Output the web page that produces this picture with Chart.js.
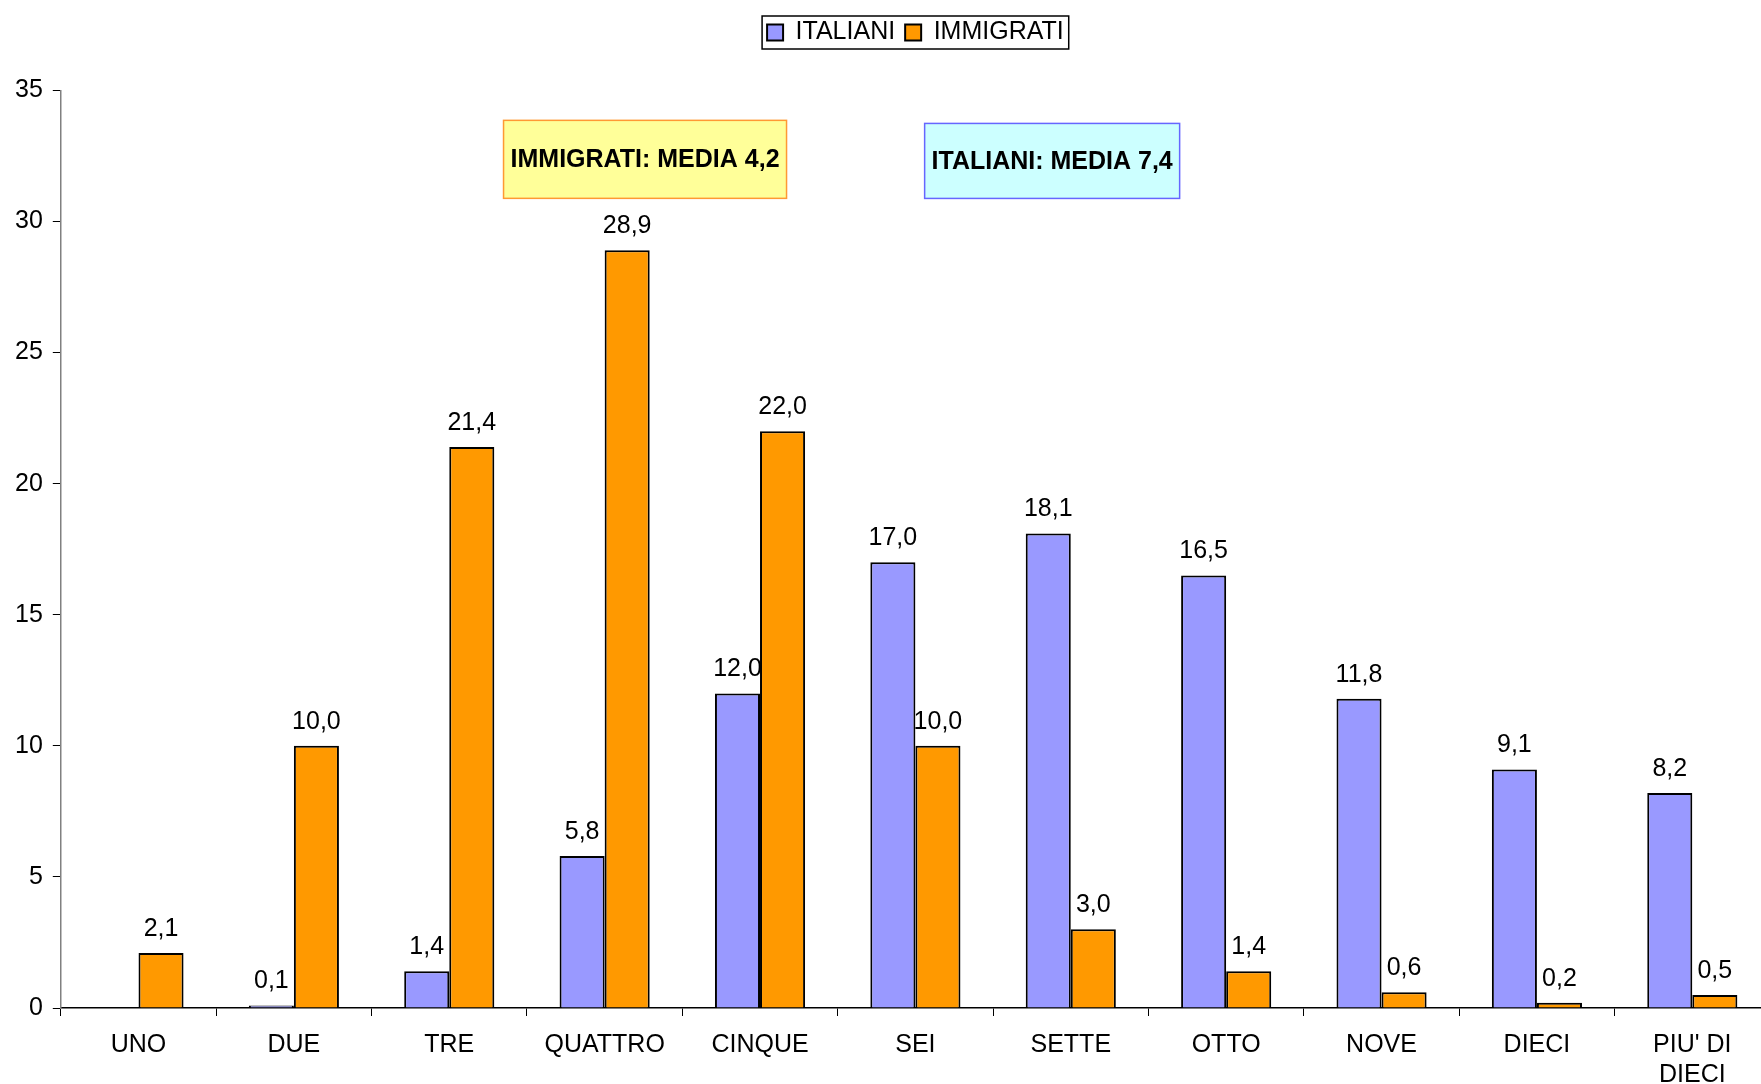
<!DOCTYPE html>
<html lang="it">
<head>
    <meta charset="UTF-8">
    <title>Italiani e immigrati</title>
    <script src="https://cdn.jsdelivr.net/npm/chart.js"></script>
    <style>
        body { margin: 0; background: #fff; overflow: hidden; }
        /* il grafico originale esce leggermente dal bordo destro */
        .chart-box { width: 1770px; height: 1084px; position: relative; }
    </style>
</head>
<body>
    <div class="chart-box">
        <canvas id="myChart"></canvas>
    </div>

    <script>
        const categories = ['UNO', 'DUE', 'TRE', 'QUATTRO', 'CINQUE', 'SEI', 'SETTE', 'OTTO', 'NOVE', 'DIECI', ["PIU' DI", 'DIECI']];
        const italiani = [null, 0.1, 1.4, 5.8, 12.0, 17.0, 18.1, 16.5, 11.8, 9.1, 8.2];
        const immigrati = [2.1, 10.0, 21.4, 28.9, 22.0, 10.0, 3.0, 1.4, 0.6, 0.2, 0.5];
        const yTicks = [0, 5, 10, 15, 20, 25, 30, 35];

        const FONT = "'Liberation Sans', Arial, sans-serif";

        // riquadri di testo sopra il grafico (centro in unita' degli assi)
        const notes = [
            { text: 'IMMIGRATI: MEDIA 4,2', x: 3.26, y: 32.37, w: 283, h: 78, fill: '#FFFF99', stroke: '#FF9933' },
            { text: 'ITALIANI: MEDIA 7,4', x: 5.88, y: 32.31, w: 255, h: 75, fill: '#CCFFFF', stroke: '#6666FF' }
        ];

        const fmt = v => v.toFixed(1).replace('.', ',');

        const extrasPlugin = {
            id: 'extras',
            afterDatasetsDraw(chart) {
                const ctx = chart.ctx;
                // etichette dei valori
                ctx.save();
                ctx.font = '25px ' + FONT;
                ctx.fillStyle = '#000';
                ctx.textAlign = 'center';
                ctx.textBaseline = 'alphabetic';
                chart.data.datasets.forEach((ds, i) => {
                    chart.getDatasetMeta(i).data.forEach((bar, j) => {
                        const v = ds.data[j];
                        if (v === null) return;
                        ctx.fillText(fmt(v), bar.x, bar.y - 17);
                    });
                });
                ctx.restore();

                // riquadri media
                const xs = chart.scales.x, ys = chart.scales.y;
                ctx.save();
                notes.forEach(n => {
                    const cx = xs.getPixelForValue(n.x);
                    const cy = ys.getPixelForValue(n.y);
                    ctx.fillStyle = n.fill;
                    ctx.strokeStyle = n.stroke;
                    ctx.lineWidth = 1.5;
                    ctx.fillRect(cx - n.w / 2, cy - n.h / 2, n.w, n.h);
                    ctx.strokeRect(cx - n.w / 2, cy - n.h / 2, n.w, n.h);
                    ctx.fillStyle = '#000';
                    ctx.font = 'bold 25px ' + FONT;
                    ctx.textAlign = 'center';
                    ctx.textBaseline = 'middle';
                    ctx.fillText(n.text, cx, cy + 1);
                });
                ctx.restore();
            },
            afterDraw(chart) {
                // cornice della legenda
                const boxes = chart.legend && chart.legend.legendHitBoxes;
                if (!boxes || !boxes.length) return;
                const left = Math.min(...boxes.map(b => b.left)) - 5;
                const right = Math.max(...boxes.map(b => b.left + b.width)) + 5;
                const top = Math.min(...boxes.map(b => b.top)) - 4;
                const bottom = Math.max(...boxes.map(b => b.top + b.height)) + 4;
                const ctx = chart.ctx;
                ctx.save();
                ctx.strokeStyle = '#000';
                ctx.lineWidth = 1.5;
                ctx.strokeRect(left, top, right - left, bottom - top);
                ctx.restore();
            }
        };

        const ctx = document.getElementById('myChart').getContext('2d');
        new Chart(ctx, {
            type: 'bar',
            data: {
                labels: categories,
                datasets: [{
                    label: 'ITALIANI',
                    data: italiani,
                    backgroundColor: '#9999FF',
                    borderColor: '#000',
                    borderWidth: 2
                }, {
                    label: 'IMMIGRATI',
                    data: immigrati,
                    backgroundColor: '#FF9900',
                    borderColor: '#000',
                    borderWidth: 2
                }]
            },
            options: {
                responsive: true,
                maintainAspectRatio: false,
                animation: false,
                layout: { padding: { left: 5, right: 0, top: 10, bottom: -20 } },
                datasets: {
                    bar: { categoryPercentage: 0.58, barPercentage: 1.0 }
                },
                plugins: {
                    legend: {
                        position: 'top',
                        fullSize: false,
                        weight: 3000,
                        labels: {
                            font: { family: FONT, size: 25 },
                            color: '#000',
                            boxWidth: 16,
                            boxHeight: 16,
                            padding: 10
                        }
                    },
                    // spazio vuoto tra legenda e grafico
                    title: {
                        display: true,
                        text: '',
                        padding: { top: 0, bottom: 21 }
                    },
                    tooltip: { enabled: false }
                },
                scales: {
                    x: {
                        grid: {
                            display: true,
                            drawOnChartArea: false,
                            drawTicks: true,
                            tickLength: 8,
                            color: '#000',
                            offset: true
                        },
                        border: { color: '#000', width: 1.5 },
                        ticks: {
                            font: { family: FONT, size: 25, lineHeight: 1.2 },
                            color: '#000',
                            padding: 14,
                            maxRotation: 0,
                            autoSkip: false
                        }
                    },
                    y: {
                        min: 0,
                        max: 35,
                        afterBuildTicks(axis) {
                            axis.ticks = yTicks.map(v => ({ value: v }));
                        },
                        grid: {
                            display: true,
                            drawOnChartArea: false,
                            drawTicks: true,
                            tickLength: 8,
                            color: '#000'
                        },
                        border: { color: '#808080', width: 1.5 },
                        ticks: {
                            font: { family: FONT, size: 25 },
                            color: '#000',
                            padding: 10
                        }
                    }
                }
            },
            plugins: [extrasPlugin]
        });
    </script>
</body>
</html>
